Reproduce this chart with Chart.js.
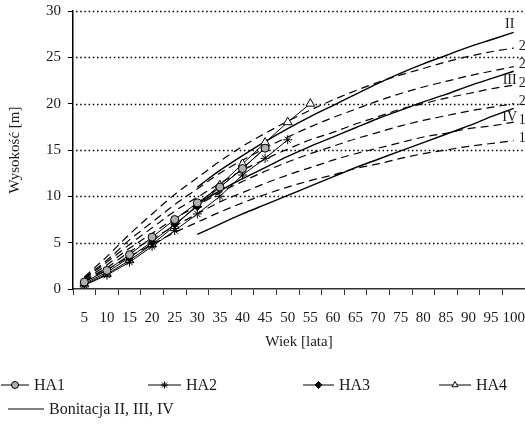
<!DOCTYPE html>
<html>
<head>
<meta charset="utf-8">
<script src="https://cdn.jsdelivr.net/npm/chart.js@4.4.1/dist/chart.umd.min.js"></script>
<style>
    html, body { margin: 0; padding: 0; background: #fff; width: 525px; height: 432px; overflow: hidden; }
    canvas { display: block; }
</style>
</head>
<body>
<canvas id="heightChart" width="531" height="432"></canvas>
<script>
// wiek drzewostanu (lata)
const ages = ['5', '10', '15', '20', '25', '30', '35', '40', '45', '50',
              '55', '60', '65', '70', '75', '80', '85', '90', '95', '100'];

// wysokosci z pomiarow (HA1-HA4)
const ha1 = [0.75, 2.0, 3.7, 5.6, 7.5, 9.3, 11.0, 13.0, 15.2];
const ha2 = [0.4, 1.5, 2.9, 4.6, 6.3, 8.1, 10.0, 12.3, 14.1, 16.1];
const ha3 = [0.6, 1.8, 3.4, 5.1, 7.0, 8.9, 11.0, 13.0, 15.2];
const ha4 = [0.5, 1.6, 3.1, 4.8, 6.8, 9.1, 11.2, 13.5, 15.8, 18.0, 20.0];

// bonitacje z tablic (od 30 lat)
const bonII  = [null, null, null, null, null, 11.0, 12.8, 14.4, 15.9, 17.3, 18.6, 19.8, 21.0, 22.2, 23.3, 24.3, 25.2, 26.1, 26.9, 27.7];
const bonIII = [null, null, null, null, null, 9.2, 10.6, 11.9, 13.1, 14.3, 15.4, 16.4, 17.4, 18.4, 19.3, 20.2, 21.0, 21.9, 22.7, 23.5];
const bonIV  = [null, null, null, null, null, 5.9, 7.0, 8.1, 9.1, 10.1, 11.1, 12.1, 13.1, 14.0, 14.9, 15.8, 16.7, 17.6, 18.6, 19.5];

// krzywe wzrostu wg indeksu (wysokosc w 100 latach)
const si26 = [1.3, 3.5, 5.9, 8.1, 10.2, 12.0, 13.8, 15.4, 16.8, 18.1, 19.3, 20.4, 21.4, 22.3, 23.1, 23.8, 24.5, 25.1, 25.6, 26.0];
const si24 = [1.2, 3.1, 5.3, 7.2, 9.1, 10.8, 12.5, 13.9, 15.2, 16.4, 17.5, 18.5, 19.4, 20.3, 21.1, 21.8, 22.4, 23.0, 23.5, 24.0];
const si22 = [1.1, 2.9, 4.8, 6.6, 8.4, 9.9, 11.4, 12.8, 14.0, 15.1, 16.1, 16.9, 17.8, 18.6, 19.4, 20.0, 20.6, 21.1, 21.6, 22.0];
const si20 = [1.0, 2.6, 4.4, 6.0, 7.6, 9.0, 10.4, 11.6, 12.7, 13.7, 14.6, 15.4, 16.2, 16.9, 17.6, 18.2, 18.7, 19.2, 19.6, 20.0];
const si18 = [0.9, 2.3, 4.0, 5.4, 6.8, 8.1, 9.4, 10.4, 11.4, 12.3, 13.1, 13.9, 14.6, 15.2, 15.8, 16.4, 16.8, 17.3, 17.6, 18.0];
const si16 = [0.8, 2.1, 3.5, 4.8, 6.1, 7.2, 8.3, 9.3, 10.2, 11.0, 11.7, 12.3, 13.0, 13.5, 14.1, 14.6, 15.0, 15.4, 15.7, 16.0];

const yTicks = [0, 5, 10, 15, 20, 25, 30];

const FONT = "'Liberation Serif', 'DejaVu Serif', serif";
const INK = '#1a1a1a';

function haSet(label, data, style, radius, fill) {
    return {
        label, data,
        borderColor: '#000', borderWidth: 1,
        pointStyle: style, pointRadius: radius,
        pointBackgroundColor: fill, pointBorderColor: '#000', pointBorderWidth: 1,
        tension: 0, spanGaps: false
    };
}

function bonSet(label, data, tag) {
    return {
        label, data, tag,
        borderColor: '#000', borderWidth: 1.4,
        pointRadius: 0, cubicInterpolationMode: 'monotone'
    };
}

function siSet(label, data) {
    return {
        label, data, tag: label,
        borderColor: '#000', borderWidth: 1.2, borderDash: [8, 5],
        pointRadius: 0, cubicInterpolationMode: 'monotone'
    };
}

// kropkowane linie siatki
const dottedGrid = {
    id: 'dottedGrid',
    beforeDatasetsDraw(chart) {
        const { ctx, chartArea, scales } = chart;
        ctx.save();
        ctx.strokeStyle = '#000';
        ctx.lineWidth = 1.3;
        ctx.setLineDash([1.5, 2.7]);
        yTicks.filter(v => v > 0).forEach(v => {
            const y = Math.round(scales.y.getPixelForValue(v)) + 0.5;
            ctx.beginPath();
            ctx.moveTo(chartArea.left + 3, y);
            ctx.lineTo(chartArea.right, y);
            ctx.stroke();
        });
        ctx.restore();
    }
};

// napisy na koncach krzywych
const endLabels = {
    id: 'endLabels',
    afterDatasetsDraw(chart) {
        const ctx = chart.ctx;
        ctx.save();
        ctx.fillStyle = INK;
        ctx.font = '14px ' + FONT;
        ctx.textBaseline = 'middle';
        chart.data.datasets.forEach((ds, i) => {
            if (!ds.tag) return;
            const meta = chart.getDatasetMeta(i);
            const last = meta.data[meta.data.length - 1];
            if (ds.tag.startsWith('I')) {
                ctx.textAlign = 'center';
                const dy = ds.tag === 'II' ? -8 : 9;
                ctx.fillText(ds.tag, last.x - 4, last.y + dy);
            } else {
                ctx.textAlign = 'left';
                ctx.fillText(ds.tag, last.x + 5, last.y - 2);
            }
        });
        ctx.restore();
    }
};

// legenda pod wykresem
const bottomLegend = {
    id: 'bottomLegend',
    afterDraw(chart, args, opts) {
        const ctx = chart.ctx;
        ctx.save();
        ctx.font = '16px ' + FONT;
        ctx.textBaseline = 'middle';
        ctx.textAlign = 'left';
        opts.items.forEach(item => {
            const ds = chart.data.datasets[item.index];
            ctx.strokeStyle = '#000';
            ctx.lineWidth = 1;
            ctx.beginPath();
            ctx.moveTo(item.x, item.y);
            ctx.lineTo(item.x + item.w, item.y);
            ctx.stroke();
            if (ds.pointRadius) {
                ctx.fillStyle = ds.pointBackgroundColor;
                Chart.helpers.drawPoint(ctx, {
                    pointStyle: ds.pointStyle, radius: 3.5, rotation: 0, borderWidth: 1
                }, item.x + item.w / 2, item.y);
            }
            ctx.fillStyle = INK;
            ctx.fillText(item.text || ds.label, item.x + item.w + 5, item.y + 1);
        });
        ctx.restore();
    }
};

new Chart(document.getElementById('heightChart'), {
    type: 'line',
    data: {
        labels: ages,
        datasets: [
            haSet('HA1', ha1, 'circle', 4, '#b0b0b0'),
            haSet('HA2', ha2, 'star', 4.5, '#000'),
            haSet('HA3', ha3, 'rectRot', 4, '#000'),
            haSet('HA4', ha4, 'triangle', 5, '#fff'),
            bonSet('Bonitacja II, III, IV', bonII, 'II'),
            bonSet('Bonitacja III', bonIII, 'III'),
            bonSet('Bonitacja IV', bonIV, 'IV'),
            siSet('26', si26),
            siSet('24', si24),
            siSet('22', si22),
            siSet('20', si20),
            siSet('18', si18),
            siSet('16', si16)
        ]
    },
    options: {
        responsive: false,
        animation: false,
        layout: { padding: { top: 11, right: 0, bottom: 80, left: 0 } },
        plugins: {
            legend: { display: false },
            tooltip: { enabled: false },
            bottomLegend: {
                items: [
                    { index: 0, x: 1, y: 385, w: 28 },
                    { index: 1, x: 148, y: 385, w: 33 },
                    { index: 2, x: 303, y: 385, w: 31 },
                    { index: 3, x: 439, y: 385, w: 32 },
                    { index: 4, x: 8, y: 409, w: 36 }
                ]
            }
        },
        scales: {
            x: {
                type: 'category',
                offset: true,
                grid: { offset: true, drawOnChartArea: false, drawTicks: true, tickLength: 6, color: '#333', lineWidth: 1 },
                border: { display: true, color: '#333', width: 1.5 },
                ticks: { autoSkip: false, maxRotation: 0, padding: 14, color: INK, font: { family: FONT, size: 15 } },
                title: { display: true, text: 'Wiek [lata]', color: INK, font: { family: FONT, size: 15 }, padding: { top: 4, bottom: 1 } },
                afterFit: scale => {
                    scale.height = 63;
                    scale.paddingLeft = 0;
                    scale.paddingRight = 0;
                }
            },
            y: {
                min: 0, max: 30,
                afterBuildTicks: scale => { scale.ticks = yTicks.map(v => ({ value: v })); },
                grid: { drawOnChartArea: false, tickLength: 5, color: '#000', lineWidth: 1 },
                border: { display: true, color: '#000', width: 1.5 },
                ticks: { padding: 7, color: INK, font: { family: FONT, size: 15 } },
                title: { display: true, text: 'Wysokość [m]', color: INK, font: { family: FONT, size: 15 }, padding: { top: 6, bottom: 0 } },
                afterFit: scale => {
                    scale.width = 73;
                    scale.paddingTop = 0;
                    scale.paddingBottom = 0;
                }
            }
        }
    },
    plugins: [dottedGrid, endLabels, bottomLegend]
});
</script>
</body>
</html>
